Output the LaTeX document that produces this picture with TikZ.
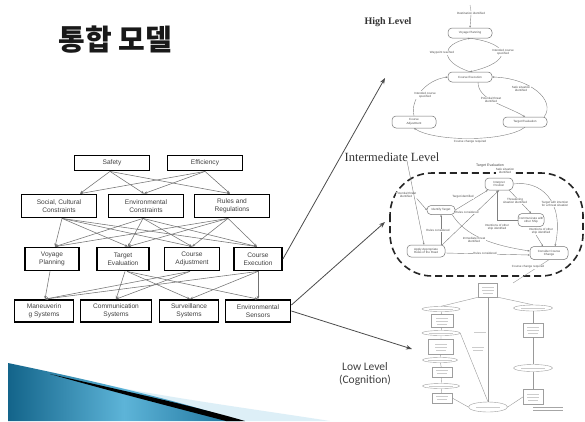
\documentclass[tikz,border=0pt]{standalone}
\usepackage{fontspec}
\setmainfont{Liberation Sans}
\newfontfamily\cjk{Noto Sans CJK KR}
\newfontfamily\serifhead{Liberation Serif}
\newfontfamily\calib{Carlito}
\usetikzlibrary{arrows.meta,shapes.geometric,calc}

\definecolor{tealdark}{HTML}{13648A}
\definecolor{tealmid}{HTML}{5DB4D8}
\definecolor{tealend}{HTML}{1B7099}
\definecolor{palecyan}{HTML}{DDEFF7}

\tikzset{
  goal/.style={draw=black, line width=1.8pt, fill=white, align=center,
    font=\fontsize{6.6}{7.6}\selectfont, text=black!75, inner sep=1pt},
  link/.style={draw=black!55, line width=0.55pt, -{Stealth[length=3.2pt,width=2.6pt]}},
  big/.style={draw=black!70, line width=0.8pt, -{Stealth[length=6pt,width=4.5pt]}},
  hl/.style={draw=black!55, rounded corners=4pt, line width=0.5pt, fill=white,
    align=center, font=\fontsize{3}{3.5}\selectfont, text=black!70, inner sep=0.5pt},
  tinylab/.style={font=\fontsize{3}{3.5}\selectfont, text=black!70, align=center,
    inner sep=0.4pt, fill=white},
  thin/.style={draw=black!50, line width=0.4pt, -{Stealth[length=2pt,width=1.7pt]}},
  llbox/.style={draw=black!38, line width=0.4pt, fill=white, inner sep=0pt},
  llell/.style={draw=black!38, line width=0.4pt, fill=white, ellipse, inner sep=0pt},
  llline/.style={draw=black!40, line width=0.4pt},
  txline/.style={draw=black!20, line width=0.45pt}
}

\begin{document}
\begin{tikzpicture}[x=1pt,y=-1pt]
\useasboundingbox (0,0) rectangle (585,421);
\fill[white] (0,0) rectangle (585,421);

% ---------- title ----------
\node[font=\cjk\bfseries\fontsize{29}{32}\selectfont, text=black!90] (title) at (115,40) {통합 모델};

% ---------- bottom swoosh ----------
\fill[palecyan] (95,383) .. controls (170,398) and (260,410) .. (330,421) -- (240,421) .. controls (190,408) and (140,396) .. (95,383) -- cycle;
\shade[left color=tealdark, right color=tealend, middle color=tealmid]
  (8,421) -- (8,363) .. controls (80,378) and (170,398) .. (240,421) -- cycle;
\fill[black] (50,374) .. controls (120,390) and (190,405) .. (245,421) -- (226,421) .. controls (180,409) and (110,391) .. (50,374) -- cycle;

% ---------- integrated model (left) ----------
\node[goal, minimum width=75, minimum height=15] (safety) at (112,163) {Safety};
\node[goal, minimum width=75, minimum height=15] (effic) at (205,163) {Efficiency};

\node[goal, minimum width=75, minimum height=23] (social) at (59,206) {Social, Cultural\\Constraints};
\node[goal, minimum width=75, minimum height=23] (envc) at (146,206) {Environmental\\Constraints};
\node[goal, minimum width=75, minimum height=23] (rules) at (232,206) {Rules and\\Regulations};

\node[goal, minimum width=54, minimum height=23] (voyage) at (52,259) {Voyage\\Planning};
\node[goal, minimum width=52, minimum height=23] (target) at (123,259) {Target\\Evaluation};
\node[goal, minimum width=55, minimum height=23] (cadj) at (192,259) {Course\\Adjustment};
\node[goal, minimum width=48, minimum height=23] (cexe) at (258,259) {Course\\Execution};

\node[goal, minimum width=59, minimum height=22] (manv) at (44,311) {Maneuverin\\g Systems};
\node[goal, minimum width=71, minimum height=22] (comm) at (116,311) {Communication\\Systems};
\node[goal, minimum width=59, minimum height=22] (surv) at (189,311) {Surveillance\\Systems};
\node[goal, minimum width=65, minimum height=22] (envs) at (258,311) {Environmental\\Sensors};

% goals -> constraints
\foreach \s/\dx in {safety/-2, effic/0} {
  \draw[link] ($(\s.south)+(\dx,0)$) -- ($(social.north)+(21,0)$);
  \draw[link] ($(\s.south)+(\dx,0)$) -- ($(envc.north)+(-2,0)$);
  \draw[link] ($(\s.south)+(\dx,0)$) -- ($(rules.north)+(-2,0)$);
}
% constraints -> functions
\foreach \s/\dx in {social/3, envc/-3, rules/-4} {
  \draw[link] ($(\s.south)+(\dx,0)$) -- ($(voyage.north)+(3,0)$);
  \draw[link] ($(\s.south)+(\dx,0)$) -- ($(target.north)+(5,0)$);
  \draw[link] ($(\s.south)+(\dx,0)$) -- (cadj.north);
  \draw[link] ($(\s.south)+(\dx,0)$) -- ($(cexe.north)+(-1,0)$);
}
% functions -> systems
\draw[link] ($(voyage.south)+(-2,0)$) -- ($(manv.north)+(1,0)$);
\draw[link] ($(target.south)+(2,0)$) -- (comm.north);
\draw[link] ($(target.south)+(4,0)$) -- ($(surv.north)+(1,0)$);
\draw[link] ($(target.south)+(4,0)$) -- (envs.north);
\draw[link] ($(cadj.south)+(-2,0)$) -- ($(manv.north)+(1,0)$);
\draw[link] ($(cadj.south)+(-2,0)$) -- (comm.north);
\draw[link] (cexe.south) -- ($(manv.north)+(1,0)$);
\draw[link] (cexe.south) -- ($(surv.north)+(1,0)$);
\draw[link] (cexe.south) -- (envs.north);

% ---------- level labels ----------
\node[font=\serifhead\bfseries\fontsize{10}{12}\selectfont, text=black!80] (hlabel) at (388,22) {High Level};
\node[font=\serifhead\fontsize{12.5}{14}\selectfont, text=black!80] (ilabel) at (392,157) {Intermediate Level};
\node[font=\calib\fontsize{11.5}{12.5}\selectfont, text=black!75, align=center] (llabel) at (365,374) {Low Level\\(Cognition)};

\coordinate (hlin) at (385,78);
\coordinate (imin) at (385,222);
\coordinate (lowin) at (412,349);
\draw[big] (cexe.east) -- (hlin);
\draw[big] ($(envs.east)+(0,-6)$) -- (imin);
\draw[big] (envs.east) -- (lowin);

% ---------- high level diagram ----------
\node[tinylab] (dest) at (471,13) {Destination identified};
\coordinate (destin) at (470,5);
\node[hl, minimum width=44, minimum height=10] (vp) at (470,33) {Voyage Planning};
\node[hl, minimum width=44, minimum height=10] (ce) at (470,77) {Course Execution};
\node[hl, minimum width=44, minimum height=12] (ca) at (414,122) {Course\\Adjustment};
\node[hl, minimum width=44, minimum height=10] (te) at (525,122) {Target Evaluation};

\draw[llline] (destin) -- (dest.north);
\draw[thin] (dest.south) -- (vp.north);
\draw[thin] (ce.north) .. controls (440,62) and (440,44) .. (vp.south);
\draw[thin] (vp.south) .. controls (512,44) and (512,62) .. (ce.north);
\draw[thin] (ca.north) .. controls (410,100) and (425,80) .. (ce.west);
\draw[thin] ($(ce.south)+(8,0)$) .. controls (478,100) and (505,105) .. (te.north);
\draw[thin] ($(te.north east)+(-3,0)$) .. controls (556,100) and (530,78) .. (ce.east);
\draw[thin] (te.south) .. controls (505,142) and (435,142) .. (ca.south);

\node[tinylab] (wr) at (442,53) {Waypoint reached};
\node[tinylab] (ics1) at (503,52) {Intended course\\specified};
\node[tinylab] (ics2) at (425,95) {Intended course\\specified};
\node[tinylab] (ssi) at (521,89) {Safe situation\\identified};
\node[tinylab] (pti1) at (491,100) {Potential threat\\identified};
\node[tinylab] (ccr1) at (470,142) {Course change required};

% ---------- intermediate level diagram ----------
\draw[line width=1.6pt, dash pattern=on 7pt off 4pt, rounded corners=42pt, black!85]
  (390,173) rectangle (583,276);
\node[tinylab, font=\fontsize{3.6}{4}\selectfont, fill=none] (tevlab) at (490,166) {Target Evaluation};

\node[hl, minimum width=28, minimum height=12] (ip) at (499,184) {Interpret\\Position};
\node[hl, minimum width=28, minimum height=9] (it) at (441,210) {Identify Target};
\node[hl, minimum width=26, minimum height=13] (cs) at (531,220) {Communicate with\\other Ship};
\node[hl, minimum width=38, minimum height=12] (ar) at (426,251) {Apply Appropriate\\Rules of the Road};
\node[hl, minimum width=38, minimum height=13] (cc) at (549,253) {Consider Course\\Change};

\coordinate (ptin) at (407,161);
\coordinate (ccout) at (513,283);
\node[tinylab] (pti2) at (406,195) {Potential threat\\identified};
\draw[thin] (ptin) -- ($(ar.north)+(-2,0)$);
\draw[thin] (pti2.south east) -- (it.west);
\draw[thin] (it.east) -- ($(ip.south west)+(3,0)$);
\draw[thin] ($(ip.south east)+(-4,0)$) -- (cs.north);
\draw[thin] (ip.east) .. controls (540,180) and (565,200) .. ($(cc.north)+(6,0)$);
\draw[thin] (ar.north -| it.south) -- (it.south);
\draw[thin] ($(ar.north east)+(-3,0)$) -- (ip.south);
\draw[thin] ($(it.south east)+(-3,0)$) .. controls (465,235) and (490,245) .. ($(cc.west)+(0,-2)$);
\draw[thin] ($(ar.east)+(0,2)$) -- ($(cc.west)+(0,2)$);
\draw[thin] (cs.west) -| ($(ip.south)+(-2,0)$);
\draw[thin] (cs.south) -- ($(cc.north)+(-6,0)$);
\draw[llline] (cc.south) -- (ccout);

\node[tinylab] (ssi2) at (505,171) {Safe situation\\identified};
\node[tinylab] (tid) at (463,197) {Target identified};
\node[tinylab] (tsi) at (515,201) {Threatening\\situation identified};
\node[tinylab] (twi) at (555,204) {Target with intention\\for a threat situation};
\node[tinylab] (rc1) at (467,212) {Rules considered};
\node[tinylab] (ios1) at (497,227) {Intentions of other\\ship identified};
\node[tinylab] (ios2) at (541,231) {Intentions of other\\ship identified};
\node[tinylab] (rc2) at (438,230) {Rules considered};
\node[tinylab] (iti) at (474,240) {Immediate threat\\identified};
\node[tinylab] (rc3) at (485,253) {Rules considered};
\node[tinylab] (ccr2) at (528,267) {Course change required};

% ---------- low level diagram ----------
\node[llbox, minimum width=19, minimum height=14] (l0) at (488,290) {};
\node[llell, minimum width=38, minimum height=5] (le1) at (441,309) {};
\node[llell, minimum width=39, minimum height=6] (re1) at (533,308) {};
\node[llbox, minimum width=22, minimum height=13] (lb2) at (442,321) {};
\node[llell, minimum width=38, minimum height=5] (le2) at (441,333) {};
\node[llbox, minimum width=25, minimum height=15] (lb3) at (441,347) {};
\node[llell, minimum width=35, minimum height=5] (le3) at (440,360) {};
\node[llbox, minimum width=20, minimum height=10] (lb4) at (442,372) {};
\node[llell, minimum width=37, minimum height=5] (le4) at (441,386) {};
\node[llbox, minimum width=20, minimum height=10] (lb5) at (442,398) {};
\node[llell, minimum width=39, minimum height=10] (lend) at (488,407) {};
\node[llbox, minimum width=20, minimum height=14] (rb2) at (533,330) {};
\node[llell, minimum width=39, minimum height=7] (re2) at (533,368) {};
\node[llbox, minimum width=20, minimum height=15] (rb3) at (533,397) {};

\draw[llline] (l0.south west) -- (le1.north);
\draw[llline] (l0.south east) -- (re1.north);
\draw[llline] (l0.south) -- (lend.north);
\draw[llline] (le1) -- (lb2) -- (le2) -- (lb3) -- (le3) -- (lb4) -- (le4) -- (lb5);
\draw[llline] (le2.east) -- (lend.north);
\draw[llline] (lb5.east) -- (lend.west);
\draw[llline] (re1) -- (rb2) -- (re2) -- (rb3);
\draw[llline] (rb3.west) -- (lend.east);

% faint text strokes inside the low-level shapes
\foreach \n in {l0,lb2,lb3,rb2,rb3} {
  \draw[txline] ($(\n.center)+(-6,-3)$) -- ($(\n.center)+(6,-3)$);
  \draw[txline] ($(\n.center)+(-6,0)$) -- ($(\n.center)+(6,0)$);
  \draw[txline] ($(\n.center)+(-5,3)$) -- ($(\n.center)+(5,3)$);
}
\foreach \n in {lb4,lb5} {
  \draw[txline] ($(\n.center)+(-6,-1.5)$) -- ($(\n.center)+(6,-1.5)$);
  \draw[txline] ($(\n.center)+(-5,1.5)$) -- ($(\n.center)+(5,1.5)$);
}
\foreach \n in {le1,re1,le2,le3,le4,re2,lend} {
  \draw[txline] ($(\n.center)+(-12,0)$) -- ($(\n.center)+(12,0)$);
}
\coordinate (lv1) at (480,332);
\coordinate (lv2) at (478,349);
\draw[txline] ($(lv1)+(-6,0)$) -- ($(lv1)+(6,0)$);
\draw[txline] ($(lv2)+(-6,-1.5)$) -- ($(lv2)+(6,-1.5)$);
\draw[txline] ($(lv2)+(-5,1.5)$) -- ($(lv2)+(5,1.5)$);
\coordinate (fn) at (548,409);
\draw[txline, black!35] ($(fn)+(-15,-1.5)$) -- ($(fn)+(15,-1.5)$);
\draw[txline, black!35] ($(fn)+(-15,1.5)$) -- ($(fn)+(15,1.5)$);

\end{tikzpicture}
\end{document}
